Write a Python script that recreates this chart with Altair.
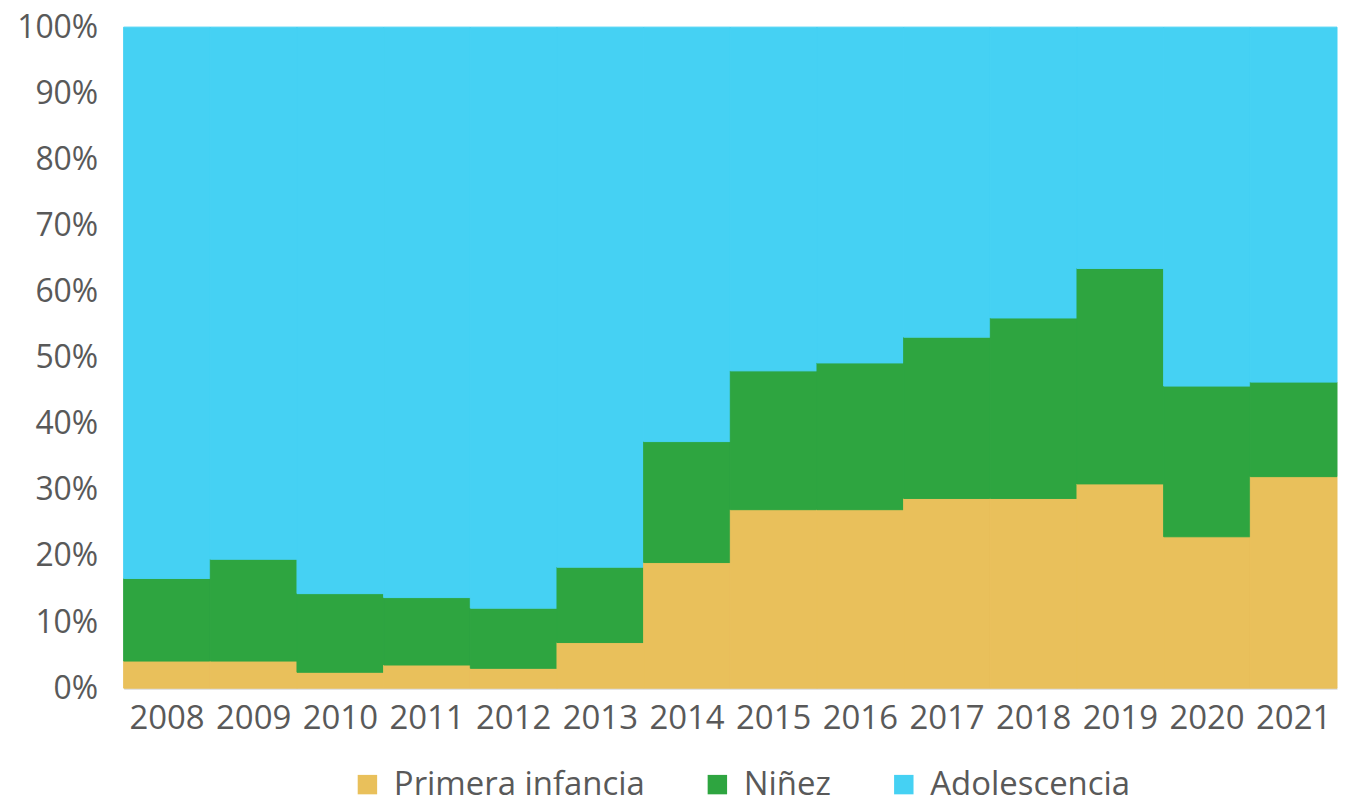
import altair as alt
import pandas as pd

years = ["2008", "2009", "2010", "2011", "2012", "2013", "2014",
         "2015", "2016", "2017", "2018", "2019", "2020", "2021"]
series = ["Primera infancia", "Niñez", "Adolescencia"]
colors = ["#E9C05B", "#2EA540", "#45D1F3"]

# share of each group (%) per year
primera = [4.1, 4.1, 2.4, 3.5, 3.0, 6.9, 19.0, 27.0, 27.0, 28.7, 28.7, 30.9, 22.9, 32.0]
ninez_top = [16.6, 19.5, 14.3, 13.7, 12.1, 18.3, 37.3, 48.0, 49.2, 53.1, 56.0, 63.5, 45.7, 46.3]
ninez = [round(t - p, 2) for t, p in zip(ninez_top, primera)]
adolescencia = [round(100 - t, 2) for t in ninez_top]

rows = []
for i, y in enumerate(years):
    for k, (name, vals) in enumerate(zip(series, [primera, ninez, adolescencia])):
        rows.append({"year": y, "grupo": name, "valor": vals[i], "orden": k})
df = pd.DataFrame(rows)

FONT = "Open Sans"
TXT = "#595959"

color_scale = alt.Scale(domain=series, range=colors)

chart = alt.Chart(df).mark_bar(strokeWidth=1).encode(
    x=alt.X("year:N", sort=years,
            scale=alt.Scale(paddingInner=0, paddingOuter=0),
            axis=alt.Axis(title=None, labelAngle=0, ticks=False, domainColor="#D9D9D9",
                          domainWidth=2, labelFontSize=33, labelColor=TXT, labelFont=FONT,
                          labelPadding=14, labelOverlap=False, grid=False)),
    y=alt.Y("valor:Q", stack="zero",
            scale=alt.Scale(domain=[0, 100], nice=False),
            axis=alt.Axis(title=None, values=list(range(0, 101, 10)),
                          labelExpr="datum.value + '%'", ticks=False, domain=False,
                          grid=False, labelFontSize=32, labelColor=TXT, labelFont=FONT,
                          labelPadding=26, minExtent=116, maxExtent=116)),
    color=alt.Color("grupo:N", sort=series, scale=color_scale,
                    legend=alt.Legend(title=None, orient="none", direction="horizontal",
                                      legendX=228, legendY=743,
                                      symbolType="square", symbolSize=380,
                                      symbolStrokeWidth=0, labelLimit=400,
                                      labelFontSize=33, labelColor=TXT, labelFont=FONT,
                                      columnPadding=56, labelOffset=10)),
    stroke=alt.Stroke("grupo:N", sort=series, scale=color_scale, legend=None),
    order=alt.Order("orden:Q", sort="ascending"),
).properties(
    width=1217, height=663,
    padding={"left": 0, "top": 2, "right": 0, "bottom": 0},
).configure_view(stroke=None)

chart.save("out.html", embed_options={"renderer": "svg", "actions": False})
